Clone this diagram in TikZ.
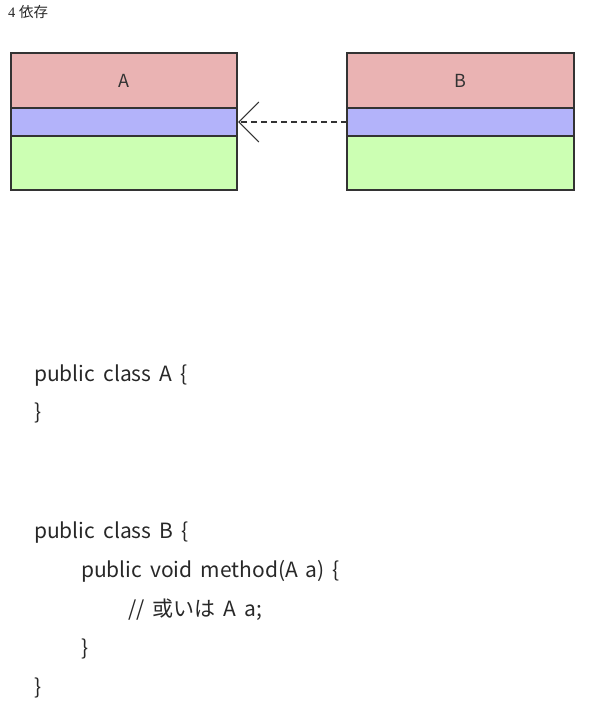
\documentclass[tikz,border=0pt]{standalone}
\usepackage{fontspec}
\setmainfont{Noto Sans CJK JP}[WordSpace=1.7]
\newfontfamily\titlefont{Liberation Serif}
\newfontfamily\titlecjk{Noto Sans CJK JP}
\usetikzlibrary{arrows.meta}
\definecolor{namefill}{RGB}{234,179,179}
\definecolor{attrfill}{RGB}{179,179,250}
\definecolor{opfill}{RGB}{204,255,179}
\definecolor{edge}{RGB}{51,51,51}
\definecolor{codeink}{RGB}{40,40,40}
\tikzset{
  part/.style={draw=edge, line width=1.4pt},
  classname/.style={font=\fontsize{18}{20}\selectfont, text=edge},
  code/.style={anchor=base west, inner sep=0pt, font=\fontsize{21}{24}\selectfont, text=codeink},
  depend/.style={draw=edge, line width=1.1pt, dash pattern=on 6pt off 4pt,
    -{Straight Barb[length=20pt,width=40pt,line width=1.1pt]}}
}
\begin{document}
\begin{tikzpicture}[x=1pt,y=-1pt]
\useasboundingbox (0,0) rectangle (609,714);
% title
\node[anchor=base west, inner sep=0pt, font=\fontsize{14.5}{16}\selectfont, text=codeink] (title) at (8,18) {\titlefont 4\ \titlecjk 依存};
% class A
\filldraw[part, fill=namefill] (11,53) rectangle (237,108);
\filldraw[part, fill=attrfill] (11,108) rectangle (237,136);
\filldraw[part, fill=opfill] (11,136) rectangle (237,190);
\node[classname] (A) at (124,81) {A};
\coordinate (Aport) at (238,122);
% class B
\filldraw[part, fill=namefill] (347,53) rectangle (574,108);
\filldraw[part, fill=attrfill] (347,108) rectangle (574,136);
\filldraw[part, fill=opfill] (347,136) rectangle (574,190);
\node[classname] (B) at (460,81) {B};
\coordinate (Bport) at (347,122);
% dependency B -> A
\draw[depend] (Bport) -- (Aport);
% source code
\node[code] (l1) at (34,381) {public class A \{};
\node[code] (l2) at (34,419) {\}};
\node[code] (l3) at (34,538) {public class B \{};
\node[code] (l4) at (81,577) {public void method(A a) \{};
\node[code] (l5) at (128,616) {// 或いは A a;};
\node[code] (l6) at (81,655) {\}};
\node[code] (l7) at (34,694) {\}};
\end{tikzpicture}
\end{document}
